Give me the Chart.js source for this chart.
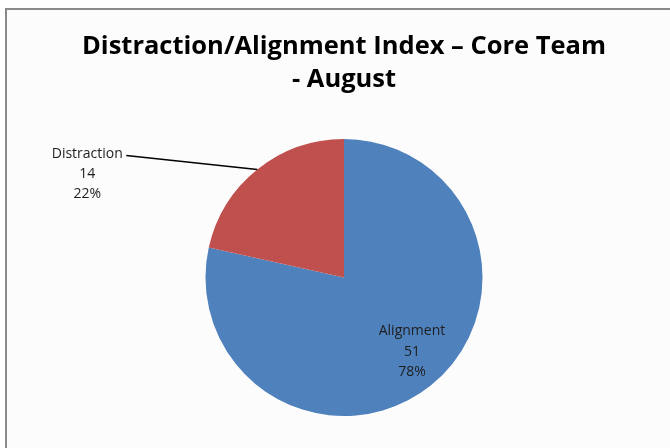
<!DOCTYPE html>
<html>
<head>
<meta charset="utf-8">
<script src="https://cdn.jsdelivr.net/npm/chart.js@4/dist/chart.umd.min.js"></script>
<style>
  html, body { margin: 0; padding: 0; background: #ffffff; }
  #wrap { width: 670px; height: 448px; }
</style>
</head>
<body>
<div id="wrap"><canvas id="pieChart" width="670" height="448"></canvas></div>
<script>
const categories = ['Alignment', 'Distraction'];
const counts = [51, 14];
const colors = ['#4f81bd', '#c0504d'];
const titleLines = ['Distraction/Alignment Index \u2013 Core Team', '- August'];

const total = counts.reduce((a, b) => a + b, 0);
const pct = v => Math.round(v / total * 100) + '%';

// frame + light background like the pasted office chart
const framePlugin = {
  id: 'frame',
  beforeDraw(chart) {
    const c = chart.ctx;
    c.save();
    c.fillStyle = '#fcfcfc';
    c.fillRect(7, 10, chart.width, chart.height);
    c.strokeStyle = '#8a8a8a';
    c.lineWidth = 2;
    c.beginPath();
    c.moveTo(6, chart.height + 2);
    c.lineTo(6, 9);
    c.lineTo(chart.width + 2, 9);
    c.stroke();
    c.restore();
  }
};

// data labels: inside for big slice, outside with leader line for small one
const labelPlugin = {
  id: 'sliceLabels',
  afterDatasetsDraw(chart) {
    const c = chart.ctx;
    const meta = chart.getDatasetMeta(0);
    c.save();
    c.font = '14px "Open Sans", sans-serif';
    c.fillStyle = '#1e1e1e';
    c.textAlign = 'center';
    c.textBaseline = 'middle';
    meta.data.forEach((arc, i) => {
      const mid = (arc.startAngle + arc.endAngle) / 2;
      const lines = [categories[i], String(counts[i]), pct(counts[i])];
      if (counts[i] / total > 0.5) {
        const r = arc.outerRadius * 0.728;
        const a = mid - 0.063;
        const x = arc.x + Math.cos(a) * r;
        const y = arc.y + Math.sin(a) * r;
        lines.forEach((t, k) => c.fillText(t, x, y + (k - 1) * 20.5));
      } else {
        const ex = arc.x + Math.cos(mid) * arc.outerRadius;
        const ey = arc.y + Math.sin(mid) * arc.outerRadius;
        const lx = ex - 170;
        const ly = ey - 15;
        c.strokeStyle = '#000';
        c.lineWidth = 1.3;
        c.beginPath();
        c.moveTo(ex, ey);
        c.lineTo(lx + 39, ly + 1);
        c.stroke();
        lines.forEach((t, k) => c.fillText(t, lx, ly + k * 19.7));
      }
    });
    c.restore();
  }
};

new Chart(document.getElementById('pieChart').getContext('2d'), {
  type: 'pie',
  data: {
    labels: categories,
    datasets: [{
      data: counts,
      backgroundColor: colors,
      borderWidth: 0
    }]
  },
  options: {
    responsive: false,
    animation: false,
    layout: { padding: { left: 18, right: 0, top: 0, bottom: 32 } },
    plugins: {
      legend: { display: false },
      tooltip: { enabled: false },
      title: {
        display: true,
        text: titleLines,
        color: '#000',
        font: { family: '"Open Sans", sans-serif', size: 25.5, weight: 'bold', lineHeight: 1.294 },
        padding: { top: 30, bottom: 43 }
      }
    }
  },
  plugins: [framePlugin, labelPlugin]
});
</script>
</body>
</html>
